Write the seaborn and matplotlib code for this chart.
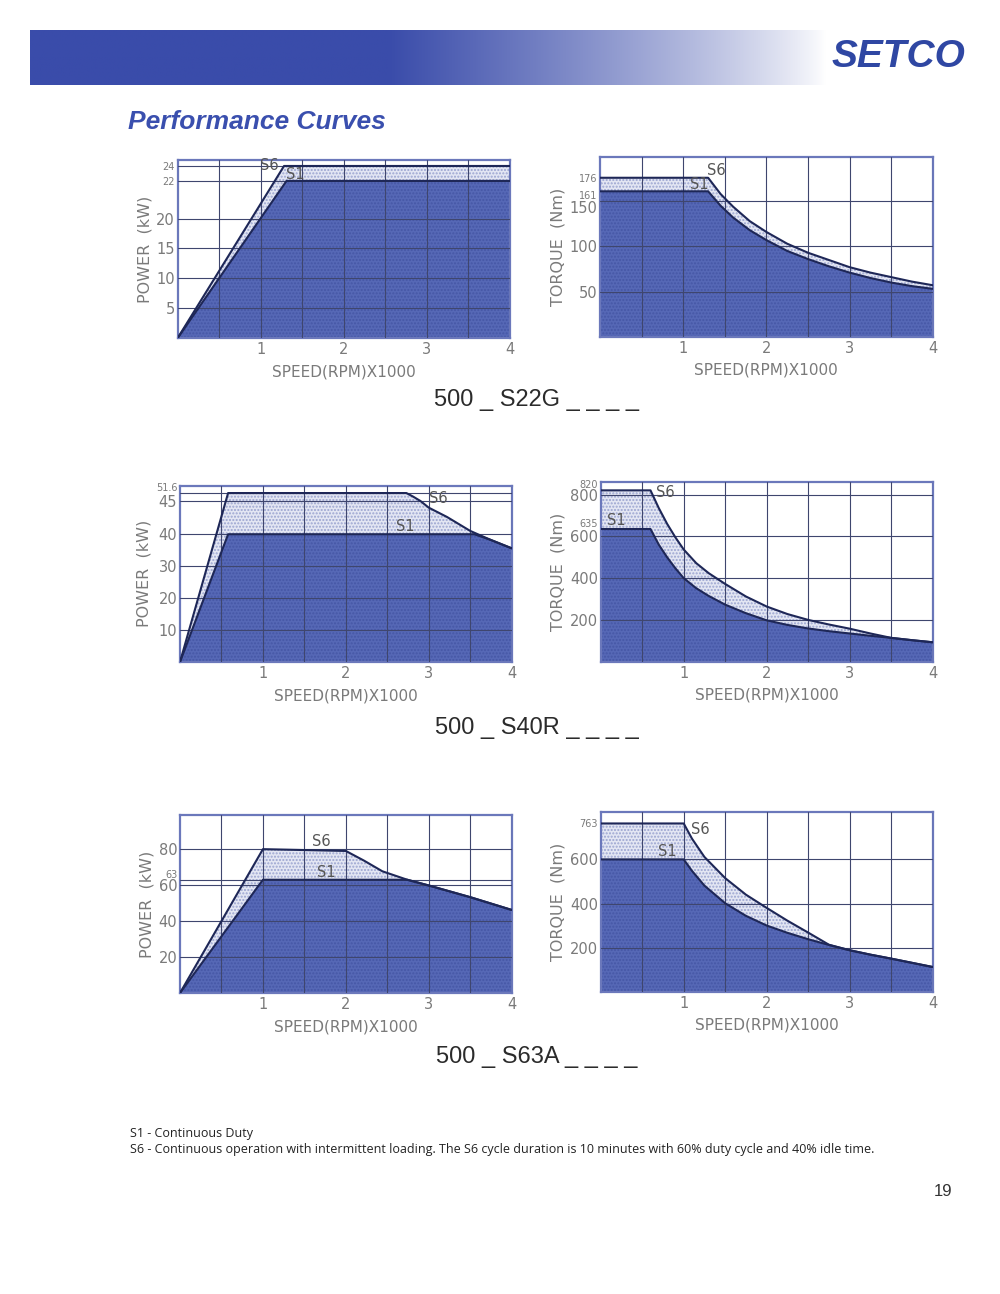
import numpy as np
import matplotlib
matplotlib.use('Agg')
import matplotlib.pyplot as plt
import seaborn as sns

# ---------------- values ----------------
speed_ticks = [1, 2, 3, 4]
speed_half = [0.5, 1.5, 2.5, 3.5]

# 500_S22G  power (kW)
s22g_pow_s6_x = [0, 1.28, 4.0]
s22g_pow_s6_y = [0, 24, 24]
s22g_pow_s1_x = [0, 1.31, 4.0]
s22g_pow_s1_y = [0, 22, 22]
# 500_S22G  torque (Nm)
s22g_trq_x = [0, 1.3, 1.45, 1.6, 1.8, 2.0, 2.25, 2.5, 2.75, 3.0, 3.25, 3.5, 3.75, 4.0]
s22g_trq_s6 = [176, 176, 158, 144, 128, 116, 103, 93, 85, 77, 71, 66, 61, 57]
s22g_trq_s1 = [161, 161, 145, 132, 118, 107, 95, 86, 78, 71, 65, 60, 56, 53]

# 500_S40R  power (kW)
s40r_pow_s6_x = [0, 0.58, 2.73, 2.81, 2.9, 3.0, 3.22, 3.5, 3.75, 4.0]
s40r_pow_s6_y = [0, 51.6, 51.6, 48.7, 45.0, 44.0, 42.6, 40.5, 38.2, 35.6]
s40r_pow_s1_x = [0, 0.58, 3.55, 3.75, 4.0]
s40r_pow_s1_y = [0, 40, 40, 38.2, 35.6]
# 500_S40R  torque (Nm)
s40r_trq_x = [0, 0.6, 0.7, 0.8, 0.9, 1.0, 1.15, 1.3, 1.5, 1.75, 2.0, 2.25, 2.5, 2.75, 3.0, 3.25, 3.5, 3.75, 4.0]
s40r_trq_s6 = [820, 820, 735, 660, 595, 537, 472, 424, 372, 312, 264, 228, 200, 178, 158, 135, 114, 103, 93]
s40r_trq_s1 = [635, 635, 560, 500, 447, 400, 352, 315, 273, 232, 198, 176, 159, 146, 135, 124, 114, 103, 93]

# 500_S63A  power (kW)
s63a_pow_s6_x = [0, 1.0, 2.0, 2.22, 2.44, 2.74, 3.0, 3.5, 4.0]
s63a_pow_s6_y = [0, 80, 79, 73.6, 67.7, 63, 59.8, 53.3, 46.2]
s63a_pow_s1_x = [0, 1.0, 2.74, 3.0, 3.5, 4.0]
s63a_pow_s1_y = [0, 63, 63, 59.8, 53.3, 46.2]
# 500_S63A  torque (Nm)
s63a_trq_x = [0, 1.0, 1.1, 1.25, 1.5, 1.75, 2.0, 2.25, 2.5, 2.75, 3.0, 3.25, 3.5, 3.75, 4.0]
s63a_trq_s6 = [763, 763, 694, 611, 515, 440, 380, 322, 268, 213, 188, 168, 150, 131, 112]
s63a_trq_s1 = [600, 600, 548, 481, 401, 344, 300, 267, 238, 212, 188, 168, 150, 131, 112]

model_names = ['500 _ S22G _ _ _ _', '500 _ S40R _ _ _ _', '500 _ S63A _ _ _ _']
footnote_s1 = 'S1 - Continuous Duty'
footnote_s6 = ('S6 - Continuous operation with intermittent loading. The S6 cycle duration '
               'is 10 minutes with 60% duty cycle and 40% idle time.')

# colours
DARK = '#5668b6'
DARK_DOT = '#4657a6'
LIGHT = '#e3e6f3'
LIGHT_DOT = '#9aa4d0'
LINE = '#1e2757'
GRID = '#3f466e'
FRAME = '#6b78bb'
TXT = '#7a7a7a'

sns.set_style('white')
plt.rcParams['font.family'] = ['DejaVu Sans']

fig = plt.figure(figsize=(10, 12.94), dpi=100)


def fx(px):
    return px / 1000


def fy(py):
    return 1 - py / 1294


def broken_scale(ax, vals, place):
    # the drawing squeezes the top of some power axes
    slope = (place[-1] - place[-2]) / (vals[-1] - vals[-2])
    v = [-1000] + list(vals) + [vals[-1] + 1000]
    p = [-1000] + list(place) + [place[-1] + 1000 * slope]
    ax.set_yscale('function', functions=(lambda a: np.interp(a, v, p),
                                         lambda a: np.interp(a, p, v)))


def panel(rect, s6x, s6y, s1x, s1y, ylim, grid_ticks, small_grid, minor_ticks,
          ylabel, s6_pos, s1_pos, scale=None, lift=(), drop=()):
    ax = fig.add_axes(rect)
    if scale is not None:
        broken_scale(ax, *scale)
    ax.fill_between(s6x, s6y, 0, facecolor=LIGHT, hatch='.....', edgecolor=LIGHT_DOT,
                    linewidth=0, zorder=1)
    ax.fill_between(s1x, s1y, 0, facecolor=DARK, hatch='.....', edgecolor=DARK_DOT,
                    linewidth=0, zorder=1.1)
    sns.lineplot(x=s6x, y=s6y, ax=ax, color=LINE, lw=1.5, sort=False, estimator=None, zorder=3)
    sns.lineplot(x=s1x, y=s1y, ax=ax, color=LINE, lw=1.5, sort=False, estimator=None, zorder=3)
    ax.set_xlim(0, 4)
    ax.set_ylim(*ylim)

    ax.set_xticks(speed_ticks, labels=[str(t) for t in speed_ticks])
    ax.set_xticks(speed_half, labels=['' for _ in speed_half], minor=True)
    ax.set_yticks(grid_ticks, labels=[f'{t:g}' for t in grid_ticks])
    ax.set_yticks(minor_ticks, labels=[f'{t:g}' for t in minor_ticks], minor=True)
    ax.tick_params(axis='both', which='both', length=0, colors=TXT, labelsize=10.5, pad=2)
    ax.tick_params(axis='x', pad=3)
    for lab, t in zip(ax.get_yticklabels(), grid_ticks):
        lab.set_fontsize(7 if t in small_grid else 10.5)
    for lab in ax.get_yticklabels(minor=True):
        lab.set_fontsize(7)
    # crowded labels sit a little above / below their line, as on the page
    for lab, t in list(zip(ax.get_yticklabels(), grid_ticks)) + \
            list(zip(ax.get_yticklabels(minor=True), minor_ticks)):
        if t in lift:
            lab.set_va('bottom')
        elif t in drop:
            lab.set_va('top')

    ax.set_axisbelow(False)
    ax.grid(True, axis='x', which='both', color=GRID, lw=0.8)
    ax.grid(True, axis='y', which='major', color=GRID, lw=0.8)
    for sp in ax.spines.values():
        sp.set_color(FRAME)
        sp.set_linewidth(1.6)
        sp.set_visible(True)

    ax.set_xlabel('SPEED(RPM)X1000', color=TXT, fontsize=11, labelpad=5)
    ax.set_ylabel(ylabel, color=TXT, fontsize=11.5, labelpad=3)
    ax.text(*s6_pos, 'S6', color='#555555', fontsize=10.5, ha='center', va='center', zorder=4)
    ax.text(*s1_pos, 'S1', color='#555555', fontsize=10.5, ha='center', va='center', zorder=4)
    return ax


# row 1 : S22G
panel([fx(177.7), fy(338), 0.3323, 178 / 1294],
      s22g_pow_s6_x, s22g_pow_s6_y, s22g_pow_s1_x, s22g_pow_s1_y,
      (0, 25), [5, 10, 15, 20, 22, 24], [22, 24], [], 'POWER  (kW)',
      (1.1, 24.1), (1.42, 22.8), scale=([0, 20, 22, 24, 25], [0, 20, 26.3, 28.8, 29.8]))
panel([fx(600), fy(336.7), 0.3327, 179.7 / 1294],
      s22g_trq_x, s22g_trq_s6, s22g_trq_x, s22g_trq_s1,
      (0, 199), [50, 100, 150], [], [161, 176], 'TORQUE  (Nm)',
      (1.4, 184), (1.2, 168), drop=(150, 161))

# row 2 : S40R
panel([fx(180), fy(662), 0.3317, 176.3 / 1294],
      s40r_pow_s6_x, s40r_pow_s6_y, s40r_pow_s1_x, s40r_pow_s1_y,
      (0, 57.7), [10, 20, 30, 40, 45, 51.6], [51.6], [], 'POWER  (kW)',
      (3.12, 47.3), (2.72, 41.2), scale=([0, 40, 45, 51.6, 57.7], [0, 40, 50.4, 52.9, 55.2]),
      lift=(51.6,))
panel([fx(600.7), fy(661.7), 0.332, 179.7 / 1294],
      s40r_trq_x, s40r_trq_s6, s40r_trq_x, s40r_trq_s1,
      (0, 860), [200, 400, 600, 800], [], [635, 820], 'TORQUE  (Nm)',
      (0.78, 810), (0.19, 675), lift=(635, 820))

# row 3 : S63A
panel([fx(180), fy(993), 0.3317, 178 / 1294],
      s63a_pow_s6_x, s63a_pow_s6_y, s63a_pow_s1_x, s63a_pow_s1_y,
      (0, 99), [20, 40, 60, 63, 80], [63], [], 'POWER  (kW)',
      (1.71, 84), (1.76, 67), lift=(63,))
panel([fx(600.7), fy(991.7), 0.332, 179.7 / 1294],
      s63a_trq_x, s63a_trq_s6, s63a_trq_x, s63a_trq_s1,
      (0, 815), [200, 400, 600], [], [763], 'TORQUE  (Nm)',
      (1.2, 735), (0.8, 637))

# header band
band = fig.add_axes([fx(30), fy(85), 0.97, 55 / 1294])
t = np.linspace(0, 1, 600)
fade = np.clip((0.82 - t) / 0.45, 0, 1) ** 0.8
left = np.array([58, 76, 170]) / 255
rgb = fade[:, None] * left + (1 - fade[:, None]) * 1.0
band.imshow(rgb[None, :, :], aspect='auto', extent=(0, 1, 0, 1))
band.axis('off')

fig.text(fx(898), fy(57), 'SETCO', ha='center', va='center', fontsize=28,
         fontweight='bold', fontstyle='italic', color='#2f47a3',
         family=['Liberation Sans'])
fig.text(fx(128), fy(122), 'Performance Curves', ha='left', va='center', fontsize=19,
         fontweight='bold', fontstyle='italic', color='#3a4fae',
         family=['Liberation Sans'])

for name, ypix in zip(model_names, [400, 728, 1057]):
    fig.text(fx(537), fy(ypix), name, ha='center', va='center', fontsize=17,
             color='#2b2b2b', family=['Liberation Sans'])

fig.text(fx(130), fy(1134), footnote_s1, ha='left', va='center', fontsize=9,
         color='#222222', family=['Open Sans'])
fig.text(fx(130), fy(1149), footnote_s6, ha='left', va='center', fontsize=9,
         color='#222222', family=['Open Sans'])
fig.text(fx(943), fy(1192), '19', ha='center', va='center', fontsize=12,
         color='#333333', family=['Liberation Sans'])

fig.savefig('out.png', dpi=100)
